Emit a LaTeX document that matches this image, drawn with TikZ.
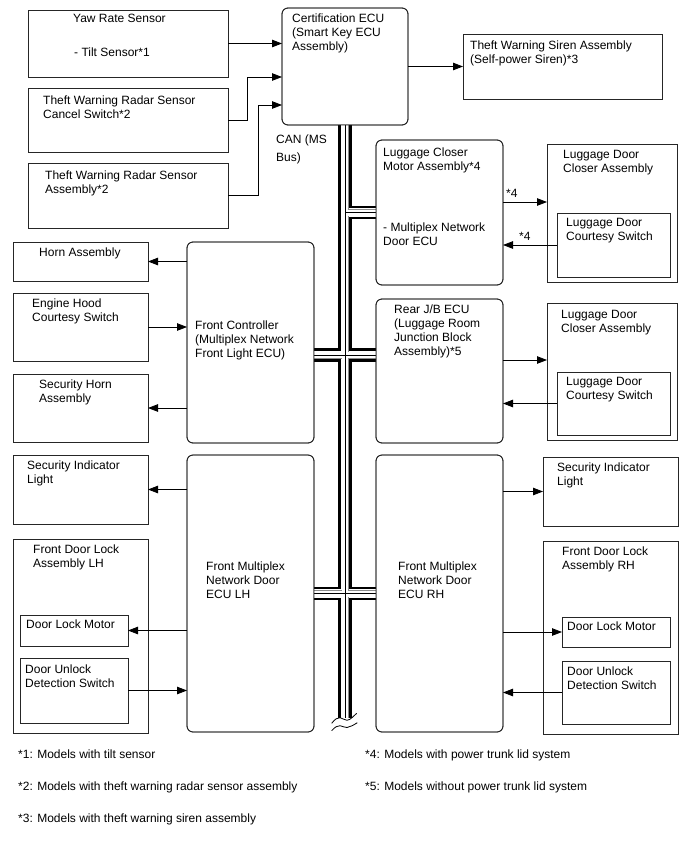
\documentclass[tikz,border=0pt]{standalone}
\usepackage{fontspec}
\setmainfont{Liberation Sans}
\usetikzlibrary{arrows.meta,calc}
\newcommand\canbus[1]{%
  \draw[#1] (cert.south) -- (busend);
  \draw[#1] (lcm.west -| cert.south) -- (lcm.west);
  \draw[#1] (fc.east |- j1) -- (rjb.west |- j1);
  \draw[#1] (ecul.east) -- (ecur.west);}
\begin{document}
\begin{tikzpicture}[x=1pt,y=-1pt,
  box/.style={draw=black!85, line width=0.8pt, fill=white, inner sep=0pt, outer sep=0pt, anchor=north west},
  rbox/.style={box, rounded corners=6pt},
  txt/.style={font=\fontsize{12}{14}\selectfont, anchor=north west, inner sep=0pt, align=left},
  foot/.style={font=\fontsize{12}{14}\selectfont, anchor=north west, inner sep=0pt},
  arr/.style={line width=0.8pt, -{Triangle[length=10pt,width=7.5pt]}},
  busA/.style={line width=13.4pt, black},
  busB/.style={line width=8.6pt, white},
  busC/.style={line width=7pt, black!45},
  busD/.style={line width=6pt, white},
  busE/.style={line width=0.9pt, black},
]
\useasboundingbox[fill=white] (0,0) rectangle (688,852);

% coordinates for the bus
\coordinate (busend) at (345,718);
\coordinate (j1) at (345,355);

% ECU nodes
\node[rbox, minimum width=126pt, minimum height=117pt] (cert) at (282,8) {};
\node[rbox, minimum width=127pt, minimum height=145pt] (lcm) at (376,140) {};
\node[rbox, minimum width=127pt, minimum height=144pt] (rjb) at (376,299) {};
\node[rbox, minimum width=127pt, minimum height=201pt] (fc) at (187,242) {};
\node[rbox, minimum width=127pt, minimum height=277pt] (ecul) at (187,455) {};
\node[rbox, minimum width=127pt, minimum height=277pt] (ecur) at (376,455) {};

% CAN bus
\canbus{busA}
\canbus{busB}
\canbus{busC}
\canbus{busD}
\canbus{busE}
\draw[line width=0.8pt] (331.7,723.3) .. controls (335,719) and (337.5,717.5) .. (340,717.7)
   .. controls (343,718) and (344.5,720.5) .. (347,720.3) .. controls (350.5,720) and (353.5,716) .. (356.7,713.3);
\draw[line width=0.8pt] (331.7,730.7) .. controls (335,727) and (337.5,725.5) .. (340,725.7)
   .. controls (343,726) and (344.5,727.8) .. (347,727.5) .. controls (350.5,727) and (353.5,725) .. (357.3,722.7);

% redraw ECU borders over the bus ends
\node[rbox, fill=none, minimum width=126pt, minimum height=117pt] at (282,8) {};
\node[rbox, fill=none, minimum width=127pt, minimum height=145pt] at (376,140) {};
\node[rbox, fill=none, minimum width=127pt, minimum height=144pt] at (376,299) {};
\node[rbox, fill=none, minimum width=127pt, minimum height=201pt] at (187,242) {};
\node[rbox, fill=none, minimum width=127pt, minimum height=277pt] at (187,455) {};
\node[rbox, fill=none, minimum width=127pt, minimum height=277pt] at (376,455) {};

% plain boxes
\node[box, minimum width=200pt, minimum height=67pt] (yaw) at (28,10) {};
\node[box, minimum width=200pt, minimum height=64pt] (cancel) at (28,88) {};
\node[box, minimum width=200pt, minimum height=65pt] (radar) at (28,163) {};
\node[box, minimum width=199pt, minimum height=65pt] (siren) at (463,34) {};
\node[box, minimum width=130pt, minimum height=138pt] (ldc1) at (547,144) {};
\node[box, minimum width=113pt, minimum height=64pt] (lds1) at (557,213) {};
\node[box, minimum width=130pt, minimum height=137pt] (ldc2) at (547,303) {};
\node[box, minimum width=113pt, minimum height=63pt] (lds2) at (557,372) {};
\node[box, minimum width=135pt, minimum height=39pt] (horn) at (13,242) {};
\node[box, minimum width=135pt, minimum height=68pt] (eh) at (13,293) {};
\node[box, minimum width=135pt, minimum height=68pt] (sh) at (13,374) {};
\node[box, minimum width=135pt, minimum height=69pt] (sill) at (13,455) {};
\node[box, minimum width=135pt, minimum height=194pt] (fdll) at (13,539) {};
\node[box, minimum width=108pt, minimum height=31pt] (dlml) at (20,615) {};
\node[box, minimum width=108pt, minimum height=65pt] (dudsl) at (20,658) {};
\node[box, minimum width=135pt, minimum height=69pt] (silr) at (543,457) {};
\node[box, minimum width=135pt, minimum height=193pt] (fdlr) at (543,541) {};
\node[box, minimum width=108pt, minimum height=30pt] (dlmr) at (562,617) {};
\node[box, minimum width=108pt, minimum height=63pt] (dudsr) at (562,661) {};

% texts
\node[txt] (t1) at (73,14) {Yaw Rate Sensor};
\node[txt] (t2) at (74,48) {- Tilt Sensor*1};
\node[txt] (t3) at (43,96) {Theft Warning Radar Sensor\\Cancel Switch*2};
\node[txt] (t4) at (45,171) {Theft Warning Radar Sensor\\Assembly*2};
\node[txt] (t5) at (292,14) {Certification ECU\\(Smart Key ECU\\Assembly)};
\node[txt] (t6) at (276,135) {CAN (MS\\[4pt]Bus)};
\node[txt] (t7) at (470,41) {Theft Warning Siren Assembly\\(Self-power Siren)*3};
\node[txt] (t8) at (383,148) {Luggage Closer\\Motor Assembly*4};
\node[txt] (t9) at (383,223) {- Multiplex Network\\Door ECU};
\node[txt] (t10) at (563,150) {Luggage Door\\Closer Assembly};
\node[txt] (t11) at (566,218) {Luggage Door\\Courtesy Switch};
\node[txt] (t12) at (506,189) {*4};
\node[txt] (t13) at (519,232) {*4};
\node[txt] (t14) at (394,305) {Rear J/B ECU\\(Luggage Room\\Junction Block\\Assembly)*5};
\node[txt] (t15) at (561,310) {Luggage Door\\Closer Assembly};
\node[txt] (t16) at (566,377) {Luggage Door\\Courtesy Switch};
\node[txt] (t17) at (195,321) {Front Controller\\(Multiplex Network\\Front Light ECU)};
\node[txt] (t18) at (39,248) {Horn Assembly};
\node[txt] (t19) at (32,299) {Engine Hood\\Courtesy Switch};
\node[txt] (t20) at (39,380) {Security Horn\\Assembly};
\node[txt] (t21) at (27,461) {Security Indicator\\Light};
\node[txt] (t22) at (33,545) {Front Door Lock\\Assembly LH};
\node[txt] (t23) at (26,620) {Door Lock Motor};
\node[txt] (t24) at (25,665) {Door Unlock\\Detection Switch};
\node[txt] (t25) at (206,562) {Front Multiplex\\Network Door\\ECU LH};
\node[txt] (t26) at (398,562) {Front Multiplex\\Network Door\\ECU RH};
\node[txt] (t27) at (557,463) {Security Indicator\\Light};
\node[txt] (t28) at (562,547) {Front Door Lock\\Assembly RH};
\node[txt] (t29) at (567,622) {Door Lock Motor};
\node[txt] (t30) at (567,667) {Door Unlock\\Detection Switch};

% footnotes
\node[foot] (f1) at (18,750) {*1: Models with tilt sensor};
\node[foot] (f2) at (18,782) {*2: Models with theft warning radar sensor assembly};
\node[foot] (f3) at (18,814) {*3: Models with theft warning siren assembly};
\node[foot] (f4) at (365,750) {*4: Models with power trunk lid system};
\node[foot] (f5) at (365,782) {*5: Models without power trunk lid system};

% connectors
\draw[arr] (yaw.east) -- (yaw.east -| cert.west);
\draw[arr] (cancel.east) -- ++(19,0) |- ([yshift=-10.5pt]cert.west);
\draw[arr] (radar.east) -- ++(30,0) |- ([yshift=-38.5pt]cert.west);
\draw[arr] (cert.east) -- (cert.east -| siren.west);
\coordinate (a4) at ([yshift=10.5pt]lcm.east);
\draw[arr] (a4) -- (a4 -| ldc1.west);
\draw[arr] (lds1.west) -- (lds1.west -| lcm.east);
\coordinate (a5) at ([yshift=11pt]rjb.east);
\draw[arr] (a5) -- (a5 -| ldc2.west);
\draw[arr] (lds2.west) -- (lds2.west -| rjb.east);
\draw[arr] (fc.west |- horn.east) -- (horn.east);
\draw[arr] (eh.east) -- (eh.east -| fc.west);
\draw[arr] (fc.west |- sh.east) -- (sh.east);
\draw[arr] (ecul.west |- sill.east) -- (sill.east);
\draw[arr] (ecul.west |- dlml.east) -- (dlml.east);
\draw[arr] (dudsl.east) -- (dudsl.east -| ecul.west);
\draw[arr] (ecur.east |- silr.west) -- (silr.west);
\draw[arr] (ecur.east |- dlmr.west) -- (dlmr.west);
\draw[arr] (dudsr.west) -- (dudsr.west -| ecur.east);
\end{tikzpicture}
\end{document}
